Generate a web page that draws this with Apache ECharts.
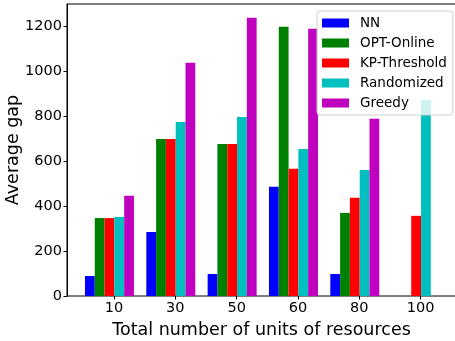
<!DOCTYPE html>
<html><head><meta charset="utf-8">
<script src="https://cdn.jsdelivr.net/npm/echarts@6/dist/echarts.min.js"></script>
<style>html,body{margin:0;padding:0;background:#fff}#c{width:455px;height:341px}</style>
</head><body><div id="c"></div>
<script>
const categories = ['10', '30', '50', '60', '80', '100'];
const seriesNames = ['NN', 'OPT-Online', 'KP-Threshold', 'Randomized', 'Greedy'];
const nn = [89, 285, 98, 486, 98, 0];
const optOnline = [347, 699, 677, 1199, 370, 0];
const kpThreshold = [347, 699, 677, 566, 437, 357];
const randomized = [352, 775, 797, 655, 561, 873];
const greedy = [446, 1038, 1239, 1190, 789, 0];
const yTicks = [0, 200, 400, 600, 800, 1000, 1200];
const colors = ['#0000ff', '#008000', '#ff0000', '#00bfbf', '#bf00bf'];
const seriesData = [nn, optOnline, kpThreshold, randomized, greedy];

const FONT = 'DejaVu Sans';
const chart = echarts.init(document.getElementById('c'), null, {renderer: 'canvas'});

const series = seriesNames.map((name, i) => ({
  name: name,
  type: 'bar',
  xAxisIndex: 2,
  yAxisIndex: 2,
  data: seriesData[i],
  barWidth: 9.8,
  barGap: '0%',
  itemStyle: {color: colors[i]},
  emphasis: {disabled: true},
  animation: false
}));

chart.setOption({
  animation: false,
  textStyle: {fontFamily: FONT},
  grid: [
    {left: 67, top: 4, right: -1, bottom: 45, show: true, borderColor: '#000', borderWidth: 1,
     backgroundColor: 'transparent', containLabel: false, outerBoundsMode: 'none'},
    {left: 83.3, top: 4, right: 3.7, bottom: 45, containLabel: false, outerBoundsMode: 'none'},
    {left: 78.8, top: 4, right: 8.2, bottom: 45, containLabel: false, outerBoundsMode: 'none'}
  ],
  xAxis: [
    {gridIndex: 0, type: 'value', min: 0, max: 1,
     axisLine: {show: false}, axisTick: {show: false}, axisLabel: {show: false}, splitLine: {show: false},
     name: 'Total number of units of resources', nameLocation: 'middle', nameGap: 25, nameMoveOverlap: false,
     nameTextStyle: {fontSize: 17.5, color: '#000', fontFamily: FONT}},
    {gridIndex: 1, type: 'category', data: categories,
     axisLine: {show: false},
     axisTick: {show: true, alignWithLabel: true, length: 3.5, lineStyle: {color: '#000', width: 1}},
     axisLabel: {fontSize: 14.5, color: '#000', margin: 5, fontFamily: FONT},
     splitLine: {show: false}},
    {gridIndex: 2, type: 'category', data: categories, show: false}
  ],
  yAxis: [
    {gridIndex: 0, type: 'value', min: 0, max: 1300,
     axisLine: {show: true, lineStyle: {color: '#000', width: 1}},
     axisTick: {show: true, length: 3.5, customValues: yTicks, lineStyle: {color: '#000', width: 1}},
     axisLabel: {fontSize: 14.5, color: '#000', margin: 5, customValues: yTicks, fontFamily: FONT,
                 formatter: v => String(v)},
     splitLine: {show: false},
     name: 'Average gap', nameLocation: 'middle', nameGap: 45, nameMoveOverlap: false,
     nameTextStyle: {fontSize: 17.5, color: '#000', fontFamily: FONT}},
    {gridIndex: 1, type: 'value', min: 0, max: 1300, show: false},
    {gridIndex: 2, type: 'value', min: 0, max: 1300, show: false}
  ],
  legend: {
    data: seriesNames,
    orient: 'vertical',
    left: 317,
    top: 11,
    padding: [5, 6, 5, 5],
    itemGap: 6,
    itemWidth: 27,
    itemHeight: 9,
    icon: 'rect',
    backgroundColor: 'rgba(255,255,255,0.8)',
    borderColor: '#d0d0d0',
    borderWidth: 1,
    borderRadius: 3,
    textStyle: {fontSize: 13.5, color: '#000', fontFamily: FONT, padding: [0, 0, 0, 6]},
    selectedMode: false
  },
  series: series
});
</script>
</body></html>
